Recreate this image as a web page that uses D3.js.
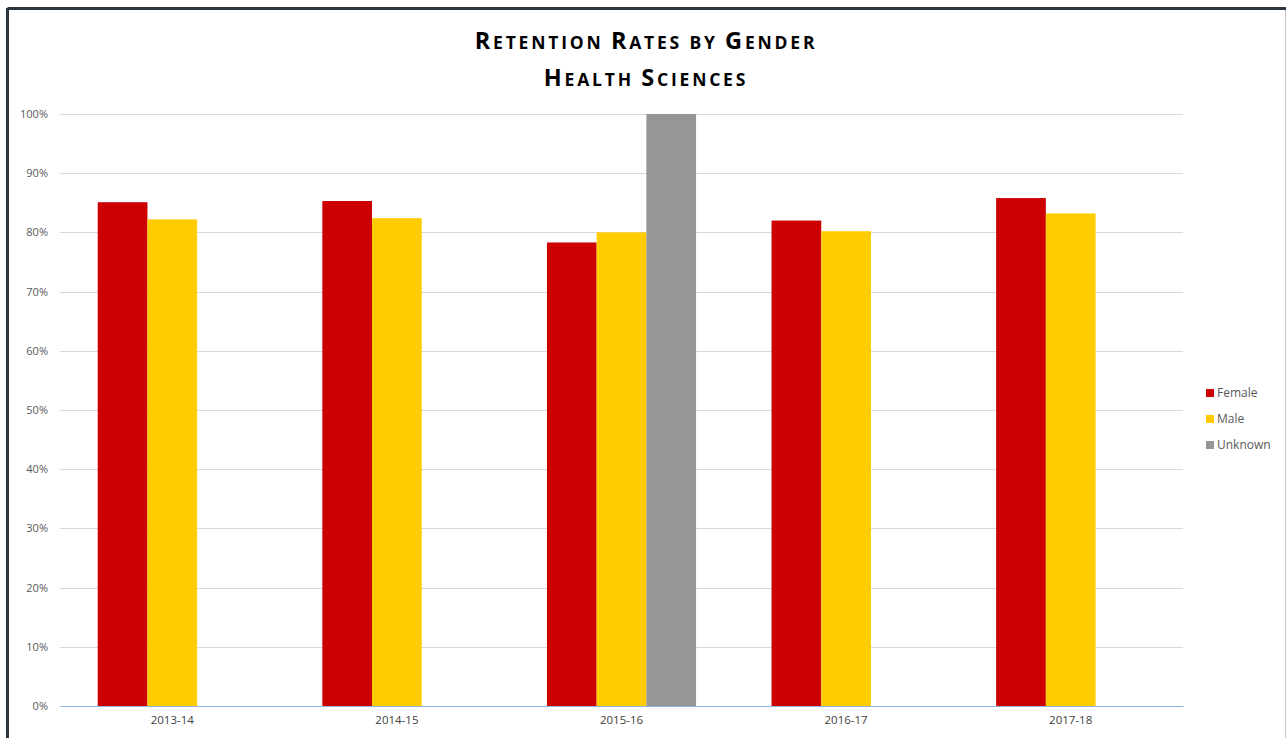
<!DOCTYPE html>
<html><head><meta charset="utf-8">
<script src="https://cdn.jsdelivr.net/npm/d3@7"></script>
<style>
body{margin:0;background:#fff;}
svg{display:block;}
</style></head>
<body>
<svg id="chart" width="1286" height="738"></svg>
<script>
const categories = ["2013-14","2014-15","2015-16","2016-17","2017-18"];
const seriesNames = ["Female","Male","Unknown"];
const female = [0.851, 0.853, 0.783, 0.820, 0.858];
const male = [0.822, 0.824, 0.800, 0.802, 0.832];
const unknown = [null, null, 1.00, null, null];
const yTicks = [0,0.1,0.2,0.3,0.4,0.5,0.6,0.7,0.8,0.9,1.0];
const colors = ["#CC0000","#FFCC00","#969696"];
const titleLines = ["Retention Rates by Gender","Health Sciences"];

const seriesValues = [female, male, unknown];
const svg = d3.select("#chart");
const font = "'Open Sans', 'Liberation Sans', sans-serif";

// frame
svg.append("rect").attr("x",0).attr("y",0).attr("width",1286).attr("height",738).attr("fill","#fff");
svg.append("line").attr("x1",7.5).attr("x2",1286).attr("y1",8.5).attr("y2",8.5).attr("stroke","#2b3640").attr("stroke-width",3);
svg.append("line").attr("x1",7.5).attr("x2",7.5).attr("y1",8).attr("y2",738).attr("stroke","#2b3640").attr("stroke-width",3);
svg.append("line").attr("x1",1285.5).attr("x2",1285.5).attr("y1",10).attr("y2",738).attr("stroke","#c8c8c8").attr("stroke-width",1);

const x0 = d3.scaleBand().domain(categories).range([60,1183]).paddingInner(0.336).paddingOuter(0.168);
const x1 = d3.scaleBand().domain(seriesNames).range([0,x0.bandwidth()]);
const y = d3.scaleLinear().domain([0,1]).range([706,114]);

// gridlines
svg.append("g").selectAll("line").data(yTicks.filter(d=>d>0)).join("line")
  .attr("x1",60).attr("x2",1183).attr("y1",d=>Math.round(y(d))+0.5).attr("y2",d=>Math.round(y(d))+0.5)
  .attr("stroke","#d9d9d9").attr("stroke-width",1);

// y axis labels
const yAxis = d3.axisLeft(y).tickValues(yTicks).tickFormat(d3.format(".0%")).tickSize(0).tickPadding(0);
const ya = svg.append("g").attr("transform","translate(48,0)").call(yAxis);
ya.select(".domain").remove();
ya.selectAll("text").attr("font-family",font).attr("font-size",11).attr("fill","#595959");

// bars
const groups = svg.append("g").selectAll("g").data(categories).join("g")
  .attr("transform",d=>`translate(${x0(d)},0)`);
groups.selectAll("rect").data((c,i)=>seriesNames.map((s,j)=>({s, v: seriesValues[j][i], j})).filter(d=>d.v!=null))
  .join("rect")
  .attr("x",d=>x1(d.s)).attr("width",x1.bandwidth())
  .attr("y",d=>y(d.v)).attr("height",d=>y(0)-y(d.v))
  .attr("fill",d=>colors[d.j]);

// x axis
const xAxis = d3.axisBottom(x0).tickSize(0).tickPadding(10);
const xa = svg.append("g").attr("transform","translate(0,706)").call(xAxis);
xa.select(".domain").attr("stroke","#8eb4e3").attr("stroke-width",1.2);
xa.selectAll("text").attr("font-family",font).attr("font-size",11.5).attr("fill","#404040");

// title (manual small caps)
titleLines.forEach((t,i)=>{
  const txt = svg.append("text").attr("text-anchor","middle").attr("font-family",font)
    .attr("font-weight","bold").attr("fill","#000").attr("x",646).attr("y",49+i*37)
    .style("letter-spacing","2.8px");
  t.split(" ").forEach((w,k)=>{
    const first = w[0], rest = w.slice(1);
    const isCap = first === first.toUpperCase();
    if (k>0) txt.append("tspan").attr("font-size",17.5).attr("xml:space","preserve").text(" ");
    txt.append("tspan").attr("font-size", isCap?23.5:17.5).text(first.toUpperCase());
    txt.append("tspan").attr("font-size",17.5).text(rest.toUpperCase());
  });
});

// legend
const lg = svg.append("g").attr("transform","translate(1206,393)");
seriesNames.forEach((s,i)=>{
  const g = lg.append("g").attr("transform",`translate(0,${i*26})`);
  g.append("rect").attr("x",0).attr("y",-4).attr("width",8).attr("height",8).attr("fill",colors[i]);
  g.append("text").attr("x",11).attr("y",4).attr("font-family",font).attr("font-size",12).attr("fill","#595959").text(s);
});
</script>
</body></html>
